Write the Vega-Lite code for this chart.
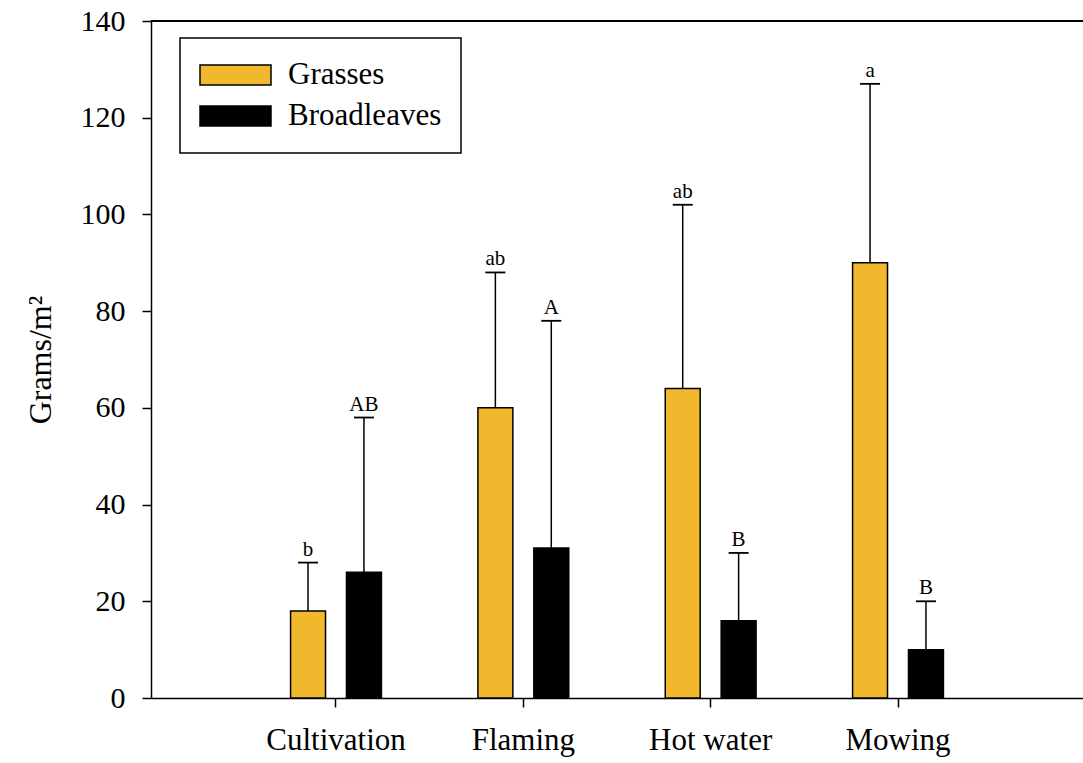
{
  "$schema": "https://vega.github.io/schema/vega-lite/v6.json",
  "width": 932,
  "height": 677,
  "autosize": {"type": "none"},
  "padding": {"left": 151, "top": 21, "right": 0, "bottom": 65},
  "config": {
    "view": {"stroke": null},
    "font": "Liberation Serif",
    "axis": {"domainColor": "black", "tickColor": "black", "labelColor": "black", "titleColor": "black", "domainWidth": 1.5, "tickWidth": 1.5, "grid": false},
    "legend": {"strokeColor": "black", "strokeWidth": 1.5, "fillColor": "white"}
  },
  "data": {
    "values": [
      {"treatment": "Cultivation", "group": "Grasses", "value": 18, "upper": 28, "letter": "b"},
      {"treatment": "Cultivation", "group": "Broadleaves", "value": 26, "upper": 58, "letter": "AB"},
      {"treatment": "Flaming", "group": "Grasses", "value": 60, "upper": 88, "letter": "ab"},
      {"treatment": "Flaming", "group": "Broadleaves", "value": 31, "upper": 78, "letter": "A"},
      {"treatment": "Hot water", "group": "Grasses", "value": 64, "upper": 102, "letter": "ab"},
      {"treatment": "Hot water", "group": "Broadleaves", "value": 16, "upper": 30, "letter": "B"},
      {"treatment": "Mowing", "group": "Grasses", "value": 90, "upper": 127, "letter": "a"},
      {"treatment": "Mowing", "group": "Broadleaves", "value": 10, "upper": 20, "letter": "B"}
    ]
  },
  "layer": [
    {
      "encoding": {
        "x": {
          "field": "treatment", "type": "nominal",
          "sort": ["Cultivation", "Flaming", "Hot water", "Mowing"],
          "scale": {"paddingInner": 0.515, "paddingOuter": 0.745},
          "axis": {"title": null, "labelAngle": 0, "labelFontSize": 31, "tickSize": 9, "labelPadding": 18}
        },
        "xOffset": {
          "field": "group", "type": "nominal",
          "sort": ["Grasses", "Broadleaves"],
          "scale": {"paddingInner": 0.375, "paddingOuter": 0}
        }
      },
      "layer": [
        {
          "mark": {"type": "rule", "color": "black", "strokeWidth": 1.5},
          "encoding": {
            "y": {"field": "value", "type": "quantitative"},
            "y2": {"field": "upper"}
          }
        },
        {
          "mark": {"type": "tick", "color": "black", "size": 20, "thickness": 1.8, "opacity": 1},
          "encoding": {
            "y": {"field": "upper", "type": "quantitative"}
          }
        },
        {
          "mark": {"type": "bar", "stroke": "black", "strokeWidth": 1.5, "opacity": 1},
          "encoding": {
            "y": {
              "field": "value", "type": "quantitative",
              "scale": {"domain": [0, 140], "nice": false},
              "axis": {
                "title": "Grams/m²", "values": [0, 20, 40, 60, 80, 100, 120, 140],
                "labelFontSize": 30, "tickSize": 9, "labelPadding": 17,
                "titleFontSize": 32, "titleFontWeight": "normal",
                "titleX": -101, "titleBaseline": "alphabetic"
              }
            },
            "color": {
              "field": "group", "type": "nominal",
              "scale": {"domain": ["Grasses", "Broadleaves"], "range": ["#F1B82D", "#000000"]},
              "legend": {
                "title": null, "orient": "none", "legendX": 29, "legendY": 17,
                "symbolType": "M-1,-0.282H1V0.282H-1Z", "symbolSize": 5041,
                "symbolStrokeColor": "black", "symbolStrokeWidth": 1.5, "symbolOpacity": 1,
                "labelFontSize": 31, "labelOffset": 16, "labelColor": "black",
                "clipHeight": 36, "rowPadding": 5, "padding": 19
              }
            }
          }
        },
        {
          "mark": {"type": "text", "baseline": "bottom", "dy": -3, "fontSize": 21, "color": "black"},
          "encoding": {
            "y": {"field": "upper", "type": "quantitative"},
            "text": {"field": "letter"}
          }
        }
      ]
    },
    {
      "mark": {"type": "rule", "color": "black", "strokeWidth": 1.5},
      "encoding": {"y": {"datum": 140}}
    }
  ]
}
